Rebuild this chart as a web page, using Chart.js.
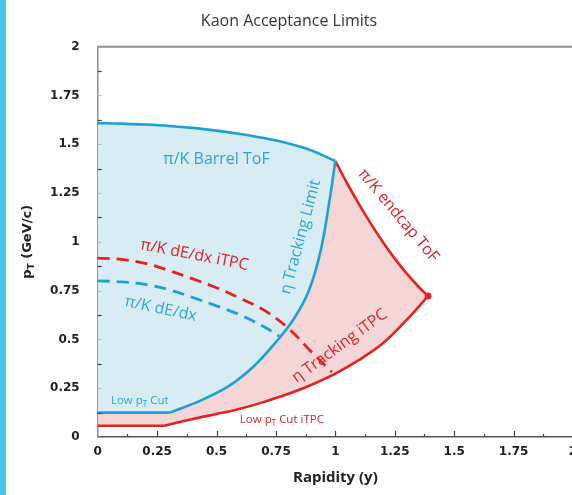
<!DOCTYPE html>
<html>
<head>
<meta charset="utf-8">
<script src="https://cdn.jsdelivr.net/npm/chart.js@4.4.1/dist/chart.umd.min.js"></script>
<style>
  html, body { margin: 0; padding: 0; background: #fff; overflow: hidden; width: 572px; height: 495px; }
  #wrap { position: absolute; left: 0; top: 0; width: 620px; height: 495px; }
  #edge { position: absolute; left: 0; top: 0; width: 6px; height: 495px; background: #4cc6f0; z-index: 2; }
</style>
</head>
<body>
<div id="wrap"><canvas id="c" width="620" height="495" style="width:620px;height:495px"></canvas></div>
<div id="edge"></div>
<script>
// Kaon acceptance limits in rapidity / transverse momentum
const barrelTofX = [0, 0.1, 0.2, 0.3, 0.4, 0.5, 0.6, 0.7, 0.8, 0.9, 1.0];
const barrelTofY = [1.608, 1.606, 1.601, 1.594, 1.584, 1.570, 1.553, 1.532, 1.505, 1.468, 1.414];

const lowPtCutX = [0, 0.303];
const lowPtCutY = [0.125, 0.125];

const etaLimitX = [0.303, 0.43, 0.553, 0.658, 0.754, 0.825, 0.888, 0.938, 0.974, 1.0];
const etaLimitY = [0.125, 0.185, 0.262, 0.364, 0.492, 0.605, 0.748, 0.953, 1.2, 1.414];

const lowPtItpcX = [0, 0.28];
const lowPtItpcY = [0.058, 0.058];

const etaItpcX = [0.28, 0.4, 0.5, 0.6, 0.7, 0.8, 0.9, 1.0, 1.1, 1.2, 1.3, 1.39];
const etaItpcY = [0.058, 0.092, 0.118, 0.145, 0.18, 0.22, 0.268, 0.325, 0.395, 0.48, 0.6, 0.722];

const endcapX = [1.0, 1.05, 1.1, 1.15, 1.2, 1.25, 1.3, 1.35, 1.39];
const endcapY = [1.414, 1.299, 1.192, 1.092, 0.999, 0.914, 0.838, 0.77, 0.722];

const dedxItpcX = [0, 0.1, 0.2, 0.3, 0.4, 0.5, 0.6, 0.7, 0.8, 0.9, 0.985];
const dedxItpcY = [0.917, 0.91, 0.89, 0.853, 0.81, 0.765, 0.71, 0.65, 0.56, 0.435, 0.333];

const dedxX = [0, 0.1, 0.2, 0.3, 0.4, 0.5, 0.6, 0.7, 0.763];
const dedxY = [0.80, 0.795, 0.782, 0.755, 0.715, 0.672, 0.625, 0.565, 0.517];

const xTicks = [0, 0.25, 0.5, 0.75, 1, 1.25, 1.5, 1.75, 2];
const yTicks = [0, 0.25, 0.5, 0.75, 1, 1.25, 1.5, 1.75, 2];

const BLUE = '#1f9fd8';
const RED = '#e2231f';
const BLUE_FILL = '#d8ecf4';
const RED_FILL = '#f4d6d6';

const pts = (xs, ys) => xs.map((x, i) => ({ x, y: ys[i] }));
const rev = a => a.slice().reverse();

// closed outlines of the two acceptance regions, built from the boundary curves
const blueRegion = [
  ...pts(lowPtCutX, lowPtCutY),
  ...pts(etaLimitX, etaLimitY).slice(1),
  ...rev(pts(barrelTofX, barrelTofY)).slice(1)
];
const redRegion = [
  ...pts(lowPtItpcX, lowPtItpcY),
  ...pts(etaItpcX, etaItpcY).slice(1),
  ...rev(pts(endcapX, endcapY)),
  ...rev(pts(etaLimitX, etaLimitY)).slice(1),
  ...rev(pts(lowPtCutX, lowPtCutY)).slice(1)
];

function curve(data, color, extra) {
  return Object.assign({
    data, showLine: true, borderColor: color, borderWidth: 2.6,
    pointRadius: 0, fill: false, tension: 0.35, order: 1
  }, extra || {});
}
function region(data, color) {
  return {
    data, showLine: true, borderWidth: 0, borderColor: 'rgba(0,0,0,0)',
    backgroundColor: color, pointRadius: 0, fill: 'shape', tension: 0, order: 5
  };
}

// text placed along the curves
const notes = [
  { parts: [['π/K Barrel ToF']], x: 0.5, y: 1.424, rot: 0, color: '#2ea3d9', size: 16 },
  { parts: [['π/K dE/dx iTPC']], x: 0.407, y: 0.932, rot: 11, color: '#d9232b', size: 16 },
  { parts: [['π/K dE/dx']], x: 0.265, y: 0.656, rot: 12, color: '#2ea3d9', size: 16 },
  { parts: [['η Tracking Limit']], x: 0.854, y: 1.025, rot: -75, color: '#2ea3d9', size: 16 },
  { parts: [['π/K endcap ToF']], x: 1.265, y: 1.135, rot: 50, color: '#d9232b', size: 16 },
  { parts: [['η Tracking iTPC']], x: 1.018, y: 0.466, rot: -36, color: '#d9232b', size: 16 },
  { parts: [['Low p'], ['T', 1], [' Cut']], x: 0.177, y: 0.184, rot: 0, color: '#2ea3d9', size: 11.5 },
  { parts: [['Low p'], ['T', 1], [' Cut iTPC']], x: 0.775, y: 0.087, rot: 0, color: '#d9232b', size: 11.5 }
];

function richWidth(ctx, parts, size, weight, fam) {
  let w = 0;
  for (const [t, sub] of parts) {
    ctx.font = `${weight} ${sub ? size * 0.7 : size}px ${fam}`;
    w += ctx.measureText(t).width;
  }
  return w;
}
function drawRich(ctx, parts, size, weight, fam) {
  const w = richWidth(ctx, parts, size, weight, fam);
  let cx = -w / 2;
  ctx.textAlign = 'left';
  ctx.textBaseline = 'middle';
  for (const [t, sub] of parts) {
    ctx.font = `${weight} ${sub ? size * 0.7 : size}px ${fam}`;
    ctx.fillText(t, cx, sub ? size * 0.28 : 0);
    cx += ctx.measureText(t).width;
  }
}

const decorations = {
  id: 'decorations',
  afterDatasetsDraw(chart) {
    const { ctx, chartArea: a, scales: { x, y } } = chart;
    ctx.save();
    // top frame line
    ctx.strokeStyle = '#8e8e8e';
    ctx.lineWidth = 2;
    ctx.beginPath();
    ctx.moveTo(a.left, a.top);
    ctx.lineTo(a.right, a.top);
    ctx.stroke();
    // inward tick marks
    ctx.strokeStyle = '#444';
    ctx.lineWidth = 1.2;
    for (let v = 0.125; v < 2; v += 0.125) {
      const px = Math.round(x.getPixelForValue(v)) + 0.5;
      const major = Math.abs(v / 0.25 - Math.round(v / 0.25)) < 1e-6;
      ctx.beginPath();
      ctx.moveTo(px, a.bottom);
      ctx.lineTo(px, a.bottom - (major ? 6 : 3));
      ctx.stroke();
    }
    for (let v = 0.125; v < 2; v += 0.125) {
      const py = Math.round(y.getPixelForValue(v)) + 0.5;
      const major = Math.abs(v / 0.25 - Math.round(v / 0.25)) < 1e-6;
      ctx.strokeStyle = major ? '#bbb' : '#444';
      ctx.beginPath();
      ctx.moveTo(a.left, py);
      ctx.lineTo(a.left + 4, py);
      ctx.stroke();
    }
    // curve labels
    for (const n of notes) {
      ctx.save();
      ctx.translate(x.getPixelForValue(n.x), y.getPixelForValue(n.y));
      ctx.rotate(n.rot * Math.PI / 180);
      ctx.fillStyle = n.color;
      drawRich(ctx, n.parts, n.size, 400, '"Open Sans", sans-serif');
      ctx.restore();
    }
    ctx.restore();
  },
  afterDraw(chart) {
    const { ctx, chartArea: a } = chart;
    ctx.save();
    // chart title
    ctx.fillStyle = '#333';
    ctx.font = '16px "Open Sans", sans-serif';
    ctx.textAlign = 'center';
    ctx.textBaseline = 'middle';
    ctx.fillText('Kaon Acceptance Limits', 289, 21);
    // y-axis title with subscript
    ctx.translate(28, (a.top + a.bottom) / 2);
    ctx.rotate(-Math.PI / 2);
    ctx.fillStyle = '#222';
    drawRich(ctx, [['p'], ['T', 1], [' (GeV/c)']], 13, 'bold', '"DejaVu Sans", sans-serif');
    ctx.restore();
  }
};

const tickLabel = v => String(Math.round(v * 1000) / 1000);

new Chart(document.getElementById('c'), {
  type: 'scatter',
  data: {
    datasets: [
      curve(pts(barrelTofX, barrelTofY), BLUE),
      curve(pts(lowPtCutX, lowPtCutY), BLUE),
      curve(pts(etaLimitX, etaLimitY), BLUE),
      curve(pts(dedxX, dedxY), BLUE, { borderDash: [12, 7], borderWidth: 2.8 }),
      curve(pts(lowPtItpcX, lowPtItpcY), RED),
      curve(pts(etaItpcX, etaItpcY), RED),
      curve(pts(endcapX, endcapY), RED),
      curve(pts(dedxItpcX, dedxItpcY), RED, { borderDash: [12, 7], borderWidth: 2.8 }),
      {
        data: [pts(endcapX, endcapY)[endcapX.length - 1]],
        pointRadius: 3.5, pointBackgroundColor: RED, pointBorderColor: RED, pointBorderWidth: 0, order: 0
      },
      region(blueRegion, BLUE_FILL),
      region(redRegion, RED_FILL)
    ]
  },
  options: {
    responsive: false,
    animation: false,
    events: [],
    layout: { padding: { left: 0, top: 46.7, right: 47, bottom: 0 } },
    plugins: { legend: { display: false }, tooltip: { enabled: false }, title: { display: false } },
    scales: {
      x: {
        type: 'linear', min: 0, max: 2,
        afterFit(s) { s.height = 58; },
        afterBuildTicks(s) { s.ticks = xTicks.map(v => ({ value: v })); },
        grid: { display: true, drawOnChartArea: false, drawTicks: false },
        border: { display: true, color: '#555', width: 1.5 },
        ticks: { padding: 8, color: '#222', callback: tickLabel, autoSkip: false, maxRotation: 0,
                 font: { family: '"DejaVu Sans"', size: 12, weight: 'bold' } },
        title: { display: true, text: 'Rapidity (y)', color: '#222', padding: { top: 0, bottom: 8 },
                 font: { family: '"Open Sans"', size: 15, weight: 'bold' } }
      },
      y: {
        type: 'linear', min: 0, max: 2,
        afterFit(s) { s.width = 97.7; },
        afterBuildTicks(s) { s.ticks = yTicks.map(v => ({ value: v })); },
        grid: { display: true, drawOnChartArea: false, drawTicks: false },
        border: { display: true, color: '#8e8e8e', width: 1.5 },
        ticks: { padding: 18, color: '#222', callback: tickLabel, autoSkip: false,
                 font: { family: '"DejaVu Sans"', size: 12, weight: 'bold' } }
      }
    }
  },
  plugins: [decorations]
});
</script>
</body>
</html>
